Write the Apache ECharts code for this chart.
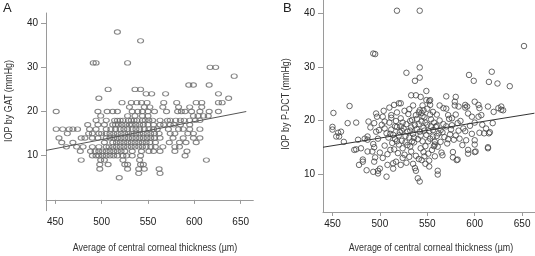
<!DOCTYPE html>
<html>
<head>
<meta charset="utf-8">
<script src="https://cdn.jsdelivr.net/npm/echarts@6/dist/echarts.min.js"></script>
<style>
  html, body { margin: 0; padding: 0; background: #fff; }
  #chart { width: 535px; height: 256px; }
</style>
</head>
<body>
<div id="chart"></div>
<script>
// tick values shared by both panels
var xTicks = [450, 500, 550, 600, 650];
var yTicks = [10, 20, 30, 40];

// panel A: GAT readings (integer mmHg), one row per IOP value -> CCT values
var gatRows = [
  [38, [517]],
  [36, [542]],
  [31, [491, 494, 528]],
  [30, [617, 623]],
  [28, [643]],
  [26, [594, 599, 616]],
  [25, [507, 536, 542]],
  [24, [548, 554, 569, 626]],
  [23, [497, 637]],
  [22, [522, 532, 538, 543, 549, 567, 581, 602, 608, 626, 630]],
  [21, [530, 546, 552, 566, 583, 595, 608]],
  [20, [451, 496, 506, 512, 517, 533, 539, 544, 550, 557, 570, 582, 586, 590, 597, 606, 616, 626]],
  [19, [499, 528, 536, 544, 550, 599, 604, 610, 615]],
  [18, [494, 505, 514, 517, 520, 523, 529, 532, 535, 538, 544, 547, 551, 555, 563, 571, 574, 580, 585, 589, 595, 601, 606]],
  [17, [485, 496, 503, 512, 515, 518, 522, 526, 530, 533, 537, 541, 545, 550, 556, 563, 567, 574, 578, 585, 595]],
  [16, [451, 458, 465, 469, 474, 487, 494, 505, 510, 515, 520, 524, 528, 533, 537, 541, 546, 551, 556, 560, 572, 583, 588, 595, 606]],
  [15, [463, 486, 490, 497, 500, 505, 509, 513, 517, 521, 525, 529, 533, 537, 541, 545, 549, 553, 557, 562, 574, 579, 593, 599]],
  [14, [454, 478, 482, 490, 496, 505, 509, 513, 517, 521, 525, 529, 533, 537, 541, 545, 549, 553, 557, 563, 577, 588, 599, 606]],
  [13, [457, 469, 503, 512, 516, 520, 524, 528, 532, 536, 540, 544, 548, 552, 558, 573, 584, 591, 602]],
  [12, [462, 473, 480, 490, 497, 505, 508, 512, 516, 520, 524, 528, 532, 536, 540, 544, 548, 553, 558, 566, 579, 584]],
  [11, [477, 488, 493, 497, 501, 505, 509, 513, 517, 521, 525, 533, 543, 551, 556, 563, 579, 592]],
  [10, [490, 494, 497, 501, 505, 509, 513, 517, 523, 527, 533, 542, 590]],
  [9, [478, 499, 503, 523, 541, 613]],
  [8, [498, 507, 525, 528, 542, 545]],
  [7, [498, 528, 540, 546, 562]],
  [6, [540, 563]],
  [5, [519]]
];
var gatFit = [[440, 11.2], [656, 20.0]];

// panel B: P-DCT readings [CCT, IOP]
var pdctPoints = [
  [518, 40.5], [542, 40.5], [493, 32.5], [495, 32.4], [652, 33.9], [528, 28.9], [542, 29.9], [542, 28],
  [537, 27.4], [594, 28.5], [599, 27.4], [618, 29.1], [615, 27.2], [624, 26.9], [637, 26.4],
  [451, 21.4], [468, 22.7], [515, 22.9], [520, 23.2], [496, 21.3], [497, 20.7], [533, 24.7], [538, 24.7],
  [543, 24.4], [549, 23.8], [553, 23.8], [549, 25.5], [542, 21.9], [546, 21.9], [550, 22.2], [570, 22.2],
  [580, 24.4], [579, 23.5], [590, 22.9], [592, 22.6], [600, 23.5], [604, 22.9], [605, 22.3], [614, 22.6],
  [620, 21.6], [625, 22.3], [628, 22], [628, 22.6], [630, 21.9], [570, 24.5], [553, 22.9], [567, 22.3],
  [579, 22.8], [583, 22.6], [590, 22.4], [522, 23.2], [535, 22.8], [545, 22.8], [552, 23.6], [512, 21],
  [503, 20.7], [505, 19.8],
  [466, 19.5], [475, 19.6], [450, 18.8], [456, 17.7], [457, 17], [459, 17.9], [462, 16], [484, 16.6],
  [487, 17], [494, 19.5], [496, 17.9], [475, 14.6], [480, 14.8], [486, 10.7], [482, 12.3], [493, 10.4],
  [494, 12.3], [498, 10.1], [500, 11], [507, 9.5], [508, 11.7], [514, 12], [517, 12.3], [514, 11],
  [522, 11.7], [524, 13], [531, 13.2], [540, 9.2], [542, 8.6], [450, 18.3], [454, 17], [477, 16.4],
  [487, 16.4], [473, 14.5], [478, 11.7], [482, 12.7], [487, 14.2], [494, 15], [493, 15.6], [498, 10.6],
  [537, 11.1], [538, 10.6], [547, 13.3], [552, 12.5], [558, 13.3], [561, 10.6], [561, 9.9], [582, 12.7],
  [593, 14.5], [600, 15.5], [601, 14.2], [614, 15], [615, 17.6], [614, 14.8], [619, 19.5], [581, 12.6],
  [572, 21], [576, 20.4], [593, 21.3], [597, 20.7], [604, 20.7], [607, 21], [584, 16.6], [591, 16.3],
  [600, 16.3], [605, 17.7], [616, 17.8], [566, 13.5], [577, 14.1], [577, 13.1], [593, 13.8], [600, 14.1],
  [610, 17.6], [612, 18.5], [608, 19.2], [595, 19], [588, 18.5], [582, 19.5], [575, 18.3], [566, 17.8],
  [560, 19], [556, 18.2], [564, 16], [572, 16.5], [558, 15.5], [580, 17.2], [590, 18], [600, 19.6], [597, 17.5],
  [502, 19.2], [505, 18.5], [507, 17.6], [509, 16.8], [510, 19.6], [512, 18.3], [513, 15.8], [514, 17.3],
  [515, 14.6], [516, 16.5], [517, 19.9], [518, 18.8], [519, 13.9], [520, 15.5], [521, 17.8], [522, 20.4],
  [523, 16.2], [524, 14.8], [525, 18.5], [526, 13.6], [527, 17.1], [528, 19.3], [529, 15.4], [530, 21.2],
  [531, 16.8], [532, 18.1], [533, 14.2], [534, 20.1], [535, 17.5], [536, 15.9], [537, 19.1], [538, 13.4],
  [539, 18.4], [540, 16.5], [541, 21.5], [542, 17.9], [543, 14.8], [544, 19.8], [545, 16.1], [546, 18.6],
  [547, 20.6], [548, 15.2], [549, 17.3], [550, 19.2], [551, 13.8], [552, 18], [553, 16.6], [554, 20.2],
  [555, 14.5], [556, 17], [557, 19.6], [558, 16], [559, 18.8], [560, 21.1], [561, 15.1], [562, 17.6],
  [563, 20], [564, 18.2], [565, 14], [567, 19.3], [568, 16.9], [570, 18.9], [571, 15.7], [573, 20.3],
  [574, 17.4], [576, 19.1], [578, 16.4], [580, 21.1], [583, 18.1], [585, 19.9], [587, 15.4], [505, 15.3],
  [508, 13.7], [511, 14.5], [498, 16.6], [500, 14], [503, 13], [526, 21.8], [531, 22.1], [538, 21],
  [544, 12.6], [548, 11.9], [552, 11.4], [528, 12.1], [535, 11.9], [541, 12.8], [504, 21.8], [510, 22.4],
  [518, 21.5], [556, 21.6], [563, 22.8], [545, 20.8], [532, 19.9], [522, 18.9], [512, 20.5], [499, 18.2],
  [490, 18.7], [492, 14.2], [495, 13.1], [488, 19.8],
  [520, 17.2], [524, 19.6], [527, 15.9], [533, 18.7], [536, 16.8], [539, 20.3], [543, 17.2], [547, 18.1],
  [551, 16.1], [554, 18.9], [557, 15.2], [560, 17.1], [529, 17.9], [534, 16.1], [541, 19.3], [548, 19.6],
  [518, 16.1], [523, 18.1], [546, 14.1], [532, 15.1], [511, 17.5], [516, 18.9], [553, 21.1], [544, 21.4]
];
var pdctFit = [[440, 15.0], [663, 21.35]];

var gatPoints = [];
gatRows.forEach(function (row) {
  row[1].forEach(function (x) { gatPoints.push([x, row[0]]); });
});

var chart = echarts.init(document.getElementById("chart"), null, { renderer: "canvas" });

var font = "Liberation Sans, Arial, sans-serif";
var axisGray = "#9a9a9a";

function xAxisFor(idx) {
  return {
    type: "value", gridIndex: idx, min: 440, max: 663.6,
    axisLine: { show: true, lineStyle: { color: axisGray, width: 1 } },
    axisTick: { show: true, inside: false, length: 4, customValues: xTicks, lineStyle: { color: axisGray } },
    axisLabel: { customValues: xTicks, margin: 7, fontSize: 10, color: "#222", fontFamily: font },
    splitLine: { show: false }
  };
}
function yAxisFor(idx, lo, hi) {
  return {
    type: "value", gridIndex: idx, min: lo, max: hi,
    axisLine: { show: true, lineStyle: { color: axisGray, width: 1 } },
    axisTick: { show: true, inside: false, length: 5, customValues: yTicks, lineStyle: { color: axisGray } },
    axisLabel: { customValues: yTicks, margin: 8, fontSize: 10, color: "#222", fontFamily: font },
    splitLine: { show: false }
  };
}

function title(text, x, y, rot) {
  return {
    type: "text", x: x, y: y, rotation: rot || 0, scaleX: 0.81,
    style: { text: text, fontSize: 11, fontFamily: font, fill: "#333", align: "center", verticalAlign: "middle" }
  };
}

var option = {
  animation: false,
  grid: [
    { left: 46, top: 13, width: 207.3, height: 197.7 },
    { left: 323, top: 0, width: 212.4, height: 212 }
  ],
  xAxis: [xAxisFor(0), xAxisFor(1)],
  yAxis: [yAxisFor(0, -2.45, 42.3), yAxisFor(1, 2.9, 42.5)],
  graphic: [
    { type: "text", x: 3, y: 2, style: { text: "A", fontSize: 13, fontFamily: font, fill: "#222" } },
    { type: "text", x: 283, y: 2, style: { text: "B", fontSize: 13, fontFamily: font, fill: "#222" } },
    title("IOP by GAT (mmHg)", 9, 101, Math.PI / 2),
    title("IOP by P-DCT (mmHg)", 286, 104, Math.PI / 2),
    title("Average of central corneal thickness (\u00b5m)", 155, 248),
    title("Average of central corneal thickness (\u00b5m)", 431, 248)
  ],
  series: [
    {
      type: "scatter", xAxisIndex: 0, yAxisIndex: 0, data: gatPoints,
      symbol: "circle", symbolSize: [6, 4.5],
      itemStyle: { color: "rgba(255,255,255,0)", borderColor: "#666", borderWidth: 1 }
    },
    {
      type: "line", xAxisIndex: 0, yAxisIndex: 0, data: gatFit, symbol: "none",
      lineStyle: { color: "#555", width: 1 }
    },
    {
      type: "scatter", xAxisIndex: 1, yAxisIndex: 1, data: pdctPoints,
      symbol: "circle", symbolSize: 5.5,
      itemStyle: { color: "rgba(255,255,255,0)", borderColor: "#444", borderWidth: 1 }
    },
    {
      type: "line", xAxisIndex: 1, yAxisIndex: 1, data: pdctFit, symbol: "none",
      lineStyle: { color: "#333", width: 1 }
    }
  ]
};

chart.setOption(option);
</script>
</body>
</html>
